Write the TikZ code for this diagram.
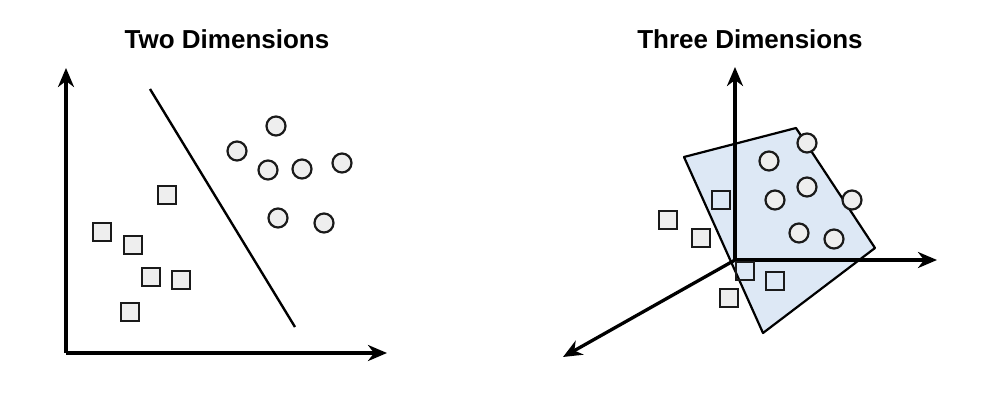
\documentclass[tikz,border=0pt]{standalone}
\usepackage{fontspec}
\setmainfont{Liberation Sans}
\usetikzlibrary{arrows.meta}
\definecolor{shapefill}{HTML}{EEEEEE}
\definecolor{shapeline}{HTML}{1A1A1A}
\definecolor{planefill}{HTML}{DDE8F5}
\tikzset{
  dot/.style={circle, draw=shapeline, line width=2.2pt, fill=shapefill, minimum size=19pt, inner sep=0pt},
  sq/.style={rectangle, draw=shapeline, line width=2.2pt, fill=shapefill, minimum size=18pt, inner sep=0pt},
  sqclear/.style={rectangle, draw=shapeline, line width=2.2pt, minimum size=18pt, inner sep=0pt},
  axis/.style={line width=3.3pt, black, -{Stealth[length=19pt, width=16pt, inset=6pt]}},
  sepline/.style={line width=2.4pt, black},
  plane/.style={draw=black, line width=2.2pt, fill=planefill, line join=round},
  title/.style={font=\fontsize{26}{30}\selectfont\bfseries, inner sep=0pt}
}
\begin{document}
\begin{tikzpicture}[x=1pt, y=-1pt]
\useasboundingbox (0,0) rectangle (1002,416);
% ---------- Two dimensions ----------
\node[title] (t2) at (227,39) {Two Dimensions};
\coordinate (o2) at (66,353);
\coordinate (y2) at (66,68);
\coordinate (x2) at (387,353);
\draw[axis] (o2) -- (y2);
\draw[axis] (o2) -- (x2);
\coordinate (s1) at (150,89);
\coordinate (s2) at (295,327);
\draw[sepline] (s1) -- (s2);
\node[dot] (c1) at (276,126) {};
\node[dot] (c2) at (237,151) {};
\node[dot] (c3) at (268,170) {};
\node[dot] (c4) at (302,169) {};
\node[dot] (c5) at (342,163) {};
\node[dot] (c6) at (278,218) {};
\node[dot] (c7) at (324,223) {};
\node[sq] (q1) at (167,195) {};
\node[sq] (q2) at (102,232) {};
\node[sq] (q3) at (133,245) {};
\node[sq] (q4) at (151,277) {};
\node[sq] (q5) at (181,280) {};
\node[sq] (q6) at (130,312) {};
% ---------- Three dimensions ----------
\node[title] (t3) at (750,39) {Three Dimensions};
\coordinate (p1) at (684,157);
\coordinate (p2) at (796,128);
\coordinate (p3) at (875,248);
\coordinate (p4) at (763,333);
\draw[plane] (p1) -- (p2) -- (p3) -- (p4) -- cycle;
\coordinate (o3) at (735,260);
\coordinate (y3) at (735,67);
\coordinate (x3) at (937,260);
\coordinate (z3) at (563,357);
\draw[axis] (o3) -- (y3);
\draw[axis] (o3) -- (x3);
\draw[axis] (o3) -- (z3);
\node[dot] (d1) at (807,143) {};
\node[dot] (d2) at (769,161) {};
\node[dot] (d3) at (807,187) {};
\node[dot] (d4) at (775,200) {};
\node[dot] (d5) at (852,200) {};
\node[dot] (d6) at (799,233) {};
\node[dot] (d7) at (834,239) {};
\node[sqclear] (r1) at (721,200) {};
\node[sq] (r2) at (668,220) {};
\node[sq] (r3) at (701,238) {};
\node[sqclear] (r4) at (745,271) {};
\node[sqclear] (r5) at (775,281) {};
\node[sq] (r6) at (729,298) {};
\end{tikzpicture}
\end{document}
